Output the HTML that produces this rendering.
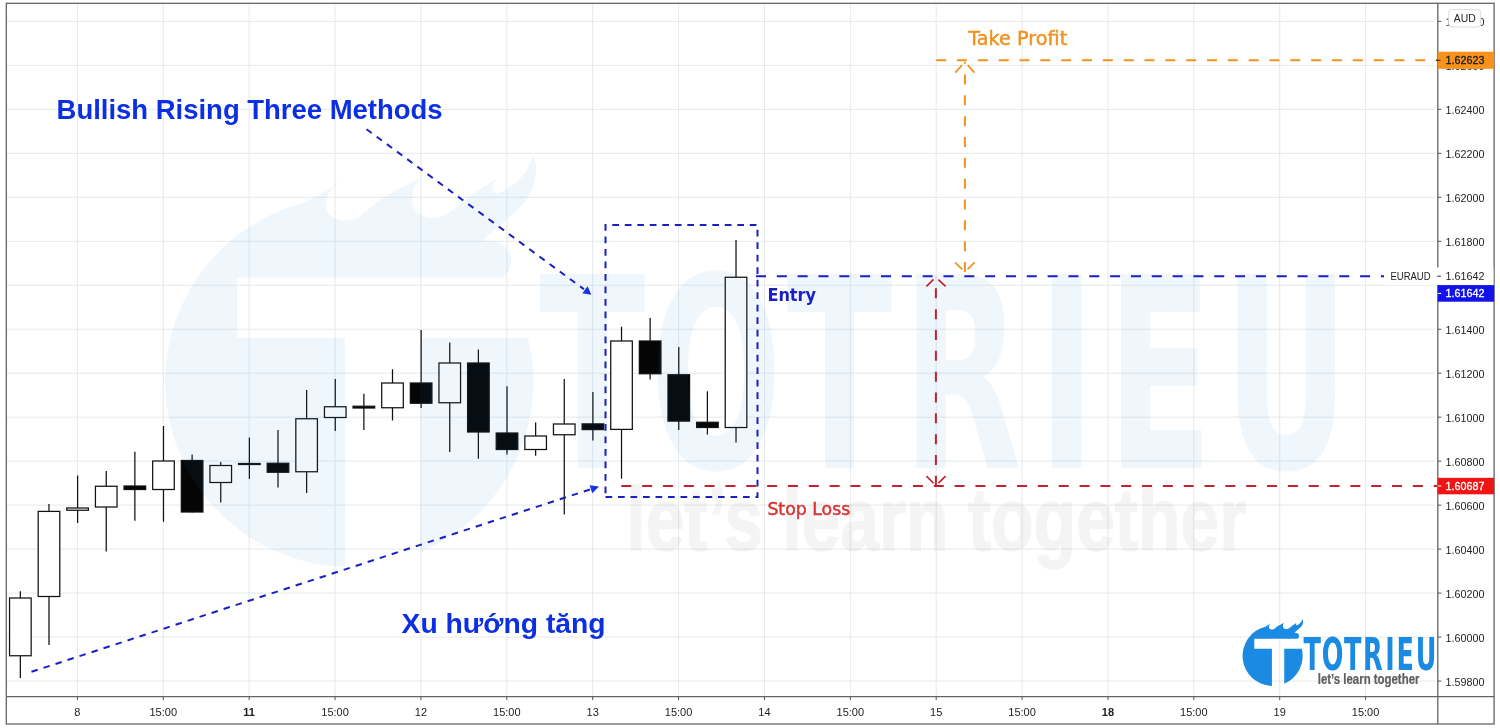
<!DOCTYPE html>
<html lang="vi"><head><meta charset="utf-8"><title>Bullish Rising Three Methods - EURAUD</title>
<style>html,body{margin:0;padding:0;background:#fff}body{width:1500px;height:728px;overflow:hidden}svg{display:block}.ax{font-family:"Liberation Sans","DejaVu Sans",sans-serif;font-size:11px;fill:#222}.lb{font-family:"DejaVu Sans","Liberation Sans",sans-serif}.hd{font-family:"Liberation Sans","DejaVu Sans",sans-serif;font-weight:bold;font-size:27.7px;fill:#0c2fe2}</style></head><body>
<svg width="1500" height="728" viewBox="0 0 1500 728">
<rect x="0" y="0" width="1500" height="728" fill="#fff"/>
<defs>
<path id="lm" d="M306 203 C319 197 333 189 344 180 C337 186 331 190 329 197 C324 209 332 221 346 221 C356 221 364 215 371 208 C386 196 404 187 422 179 C416 185 413 190 414 196 C411 208 420 218 434 218 C444 218 452 212 459 206 C470 197 484 187 498 179 C492 185 492 191 497 194 C512 190 528 176 534 156 C540 172 536 190 524 204 C512 218 496 228 484 241 C500 240 512 248 512 260 C512 268 508 274 503 277.5 L239 277.5 L239 337.4 L346.5 337.4 L346.5 565.6 A184.2 184.2 0 0 1 306 203 Z M421.5 337.4 L528.8 337.4 A184.2 184.2 0 0 1 421.5 551.3 Z" fill="#1a8ae2"/>
<g id="lt">
<text transform="translate(545.2,468) scale(0.585,1)" x="-9.9 179.0 412.5 610.1 842.1 959.8 1158.9" y="0" font-family="DejaVu Sans,Liberation Sans,sans-serif" font-weight="bold" font-size="266" fill="#1a8ae2">TOTRIEU</text>
<text x="626.3" y="550" font-family="Liberation Sans,DejaVu Sans,sans-serif" font-weight="bold" font-size="88.5" fill="#5f5f5f" stroke="#5f5f5f" stroke-width="1.5" textLength="620" lengthAdjust="spacingAndGlyphs">let’s learn together</text>
</g></defs>
<g stroke="#e5e9ea" stroke-width="1" shape-rendering="auto">
<line x1="77.40" y1="3.3" x2="77.40" y2="696.6"/>
<line x1="163.28" y1="3.3" x2="163.28" y2="696.6"/>
<line x1="249.16" y1="3.3" x2="249.16" y2="696.6"/>
<line x1="335.04" y1="3.3" x2="335.04" y2="696.6"/>
<line x1="420.92" y1="3.3" x2="420.92" y2="696.6"/>
<line x1="506.80" y1="3.3" x2="506.80" y2="696.6"/>
<line x1="592.68" y1="3.3" x2="592.68" y2="696.6"/>
<line x1="678.56" y1="3.3" x2="678.56" y2="696.6"/>
<line x1="764.44" y1="3.3" x2="764.44" y2="696.6"/>
<line x1="850.32" y1="3.3" x2="850.32" y2="696.6"/>
<line x1="936.20" y1="3.3" x2="936.20" y2="696.6"/>
<line x1="1022.08" y1="3.3" x2="1022.08" y2="696.6"/>
<line x1="1107.96" y1="3.3" x2="1107.96" y2="696.6"/>
<line x1="1193.84" y1="3.3" x2="1193.84" y2="696.6"/>
<line x1="1279.72" y1="3.3" x2="1279.72" y2="696.6"/>
<line x1="1365.60" y1="3.3" x2="1365.60" y2="696.6"/>
<line x1="6.3" y1="21.35" x2="1434.8" y2="21.35"/>
<line x1="6.3" y1="65.33" x2="1434.8" y2="65.33"/>
<line x1="6.3" y1="109.31" x2="1434.8" y2="109.31"/>
<line x1="6.3" y1="153.29" x2="1434.8" y2="153.29"/>
<line x1="6.3" y1="197.27" x2="1434.8" y2="197.27"/>
<line x1="6.3" y1="241.25" x2="1434.8" y2="241.25"/>
<line x1="6.3" y1="285.23" x2="1434.8" y2="285.23"/>
<line x1="6.3" y1="329.21" x2="1434.8" y2="329.21"/>
<line x1="6.3" y1="373.19" x2="1434.8" y2="373.19"/>
<line x1="6.3" y1="417.17" x2="1434.8" y2="417.17"/>
<line x1="6.3" y1="461.15" x2="1434.8" y2="461.15"/>
<line x1="6.3" y1="505.13" x2="1434.8" y2="505.13"/>
<line x1="6.3" y1="549.11" x2="1434.8" y2="549.11"/>
<line x1="6.3" y1="593.09" x2="1434.8" y2="593.09"/>
<line x1="6.3" y1="637.07" x2="1434.8" y2="637.07"/>
<line x1="6.3" y1="681.05" x2="1434.8" y2="681.05"/>
</g>
<g stroke="#111" stroke-width="1.25">
<line x1="20.35" y1="591.25" x2="20.35" y2="678"/>
<rect x="9.55" y="598.0" width="21.60" height="57.75" fill="#fff"/>
<line x1="48.98" y1="504" x2="48.98" y2="645"/>
<rect x="38.18" y="511.4" width="21.60" height="85.10" fill="#fff"/>
<line x1="77.60" y1="475.5" x2="77.60" y2="523"/>
<rect x="66.80" y="508.0" width="21.60" height="2.25" fill="#fff"/>
<line x1="106.23" y1="471" x2="106.23" y2="551.5"/>
<rect x="95.43" y="486.25" width="21.60" height="20.75" fill="#fff"/>
<line x1="134.86" y1="451.75" x2="134.86" y2="520.75"/>
<rect x="124.06" y="486.0" width="21.60" height="3.50" fill="#050505"/>
<line x1="163.48" y1="426" x2="163.48" y2="521.75"/>
<rect x="152.68" y="461.0" width="21.60" height="28.50" fill="#fff"/>
<line x1="192.11" y1="454.5" x2="192.11" y2="512.5"/>
<rect x="181.31" y="460.5" width="21.60" height="51.50" fill="#050505"/>
<line x1="220.74" y1="462" x2="220.74" y2="502.5"/>
<rect x="209.94" y="465.5" width="21.60" height="17.00" fill="#fff"/>
<line x1="249.37" y1="437.5" x2="249.37" y2="479"/>
<rect x="238.57" y="463.5" width="21.60" height="1.00" fill="#050505"/>
<line x1="277.99" y1="430" x2="277.99" y2="487.5"/>
<rect x="267.19" y="463.25" width="21.60" height="9.00" fill="#050505"/>
<line x1="306.62" y1="390" x2="306.62" y2="493"/>
<rect x="295.82" y="418.75" width="21.60" height="53.00" fill="#fff"/>
<line x1="335.25" y1="379" x2="335.25" y2="431"/>
<rect x="324.45" y="406.75" width="21.60" height="10.75" fill="#fff"/>
<line x1="363.87" y1="393.75" x2="363.87" y2="430"/>
<rect x="353.07" y="406.25" width="21.60" height="1.75" fill="#050505"/>
<line x1="392.50" y1="369.25" x2="392.50" y2="420.5"/>
<rect x="381.70" y="383.0" width="21.60" height="24.75" fill="#fff"/>
<line x1="421.13" y1="330" x2="421.13" y2="408"/>
<rect x="410.33" y="383.0" width="21.60" height="20.25" fill="#050505"/>
<line x1="449.75" y1="342.5" x2="449.75" y2="452"/>
<rect x="438.95" y="363.0" width="21.60" height="39.75" fill="#fff"/>
<line x1="478.38" y1="349.5" x2="478.38" y2="458.75"/>
<rect x="467.58" y="363.0" width="21.60" height="69.00" fill="#050505"/>
<line x1="507.01" y1="386.25" x2="507.01" y2="454.5"/>
<rect x="496.21" y="433.0" width="21.60" height="16.50" fill="#050505"/>
<line x1="535.64" y1="422.5" x2="535.64" y2="455.75"/>
<rect x="524.84" y="436.0" width="21.60" height="13.50" fill="#fff"/>
<line x1="564.26" y1="379" x2="564.26" y2="514.5"/>
<rect x="553.46" y="424.0" width="21.60" height="10.75" fill="#fff"/>
<line x1="592.89" y1="392" x2="592.89" y2="440.5"/>
<rect x="582.09" y="423.9" width="21.60" height="5.70" fill="#050505"/>
<line x1="621.52" y1="326.75" x2="621.52" y2="478.75"/>
<rect x="610.72" y="341.0" width="21.60" height="88.40" fill="#fff"/>
<line x1="650.14" y1="318" x2="650.14" y2="379.4"/>
<rect x="639.34" y="341.0" width="21.60" height="32.75" fill="#050505"/>
<line x1="678.77" y1="347" x2="678.77" y2="430"/>
<rect x="667.97" y="374.75" width="21.60" height="46.35" fill="#050505"/>
<line x1="707.40" y1="391.25" x2="707.40" y2="434.5"/>
<rect x="696.60" y="422.25" width="21.60" height="5.25" fill="#050505"/>
<line x1="736.02" y1="240" x2="736.02" y2="442.5"/>
<rect x="725.23" y="277.25" width="21.60" height="150.25" fill="#fff"/>
</g>
<use href="#lm" opacity="0.072" transform="translate(-2.9,-1.1) scale(1.004)"/><use href="#lt" opacity="0.064"/>
<g fill="none" stroke="#1a1fc4" stroke-width="2">
<path d="M605.5 497 H757.5 V225 H605.5 Z" stroke-dasharray="6.7 5.8"/>
<line x1="756" y1="276.2" x2="1384" y2="276.2" stroke-dasharray="10 10.83"/>
<line x1="31.5" y1="671.8" x2="591" y2="489.1" stroke-dasharray="6.5 6.13"/>
<line x1="366.5" y1="129.2" x2="584" y2="289.3" stroke-dasharray="6.5 6.13"/>
</g>
<path d="M599 486.6 L589.6 485.2 L592.3 493.3 Z" fill="#1432ea"/>
<path d="M591.3 294.7 L582.3 293.2 L587.6 286.3 Z" fill="#1432ea"/>
<g fill="none" stroke="#c6212c" stroke-width="2">
<line x1="621.3" y1="486" x2="1438" y2="486" stroke-dasharray="10 10.83"/>
<line x1="935.9" y1="485.8" x2="935.9" y2="277.2" stroke-dasharray="10 10.83"/>
<path d="M926.4 286.4 L935.9 277.2 M945.6 286.4 L935.9 277.2 M926.4 476.2 L935.9 485.6 M945.6 476.2 L935.9 485.6" stroke-width="1.7" stroke-dasharray="10 10.83"/>
</g>
<g fill="none" stroke="#ee9320" stroke-width="2">
<line x1="936.2" y1="60.3" x2="1438" y2="60.3" stroke-dasharray="10 10.83"/>
<line x1="964.9" y1="272" x2="964.9" y2="62" stroke-dasharray="10 10.83"/>
<path d="M955.3 72.6 L964.9 62 M974.4 72.6 L964.9 62 M955.1 262.4 L964.9 272 M974.6 262.4 L964.9 272" stroke-width="1.7" stroke-dasharray="10 10.83"/>
</g>
<text class="hd" x="56.6" y="118.7" textLength="386" lengthAdjust="spacingAndGlyphs">Bullish Rising Three Methods</text>
<text class="hd" x="401.6" y="632.8" textLength="204" lengthAdjust="spacingAndGlyphs">Xu hướng tăng</text>
<text class="lb" x="767.4" y="301.3" font-size="17" font-weight="bold" fill="#1a1fc4" textLength="48.6" lengthAdjust="spacingAndGlyphs">Entry</text>
<text class="lb" x="767.4" y="514.5" font-size="17" fill="#d63333" stroke="#d63333" stroke-width="0.45" textLength="82.8" lengthAdjust="spacingAndGlyphs">Stop Loss</text>
<text class="lb" x="968.2" y="45" font-size="19" fill="#ee9320" stroke="#ee9320" stroke-width="0.45" textLength="99" lengthAdjust="spacingAndGlyphs">Take Profit</text>
<rect x="1437.8" y="3.3" width="56.299999999999955" height="720.7" fill="#fff"/>
<rect x="6.3" y="696.6" width="1487.8" height="27.399999999999977" fill="#fff"/>
<g class="ax">
<line x1="1437.8" y1="65.33" x2="1441.3" y2="65.33" stroke="#555" stroke-width="1"/>
<text x="1445.6" y="70.13" textLength="38.8" lengthAdjust="spacingAndGlyphs">1.62600</text>
<line x1="1437.8" y1="109.31" x2="1441.3" y2="109.31" stroke="#555" stroke-width="1"/>
<text x="1445.6" y="114.11" textLength="38.8" lengthAdjust="spacingAndGlyphs">1.62400</text>
<line x1="1437.8" y1="153.29" x2="1441.3" y2="153.29" stroke="#555" stroke-width="1"/>
<text x="1445.6" y="158.09" textLength="38.8" lengthAdjust="spacingAndGlyphs">1.62200</text>
<line x1="1437.8" y1="197.27" x2="1441.3" y2="197.27" stroke="#555" stroke-width="1"/>
<text x="1445.6" y="202.07" textLength="38.8" lengthAdjust="spacingAndGlyphs">1.62000</text>
<line x1="1437.8" y1="241.25" x2="1441.3" y2="241.25" stroke="#555" stroke-width="1"/>
<text x="1445.6" y="246.05" textLength="38.8" lengthAdjust="spacingAndGlyphs">1.61800</text>
<line x1="1437.8" y1="285.23" x2="1441.3" y2="285.23" stroke="#555" stroke-width="1"/>
<text x="1445.6" y="290.03" textLength="38.8" lengthAdjust="spacingAndGlyphs">1.61600</text>
<line x1="1437.8" y1="329.21" x2="1441.3" y2="329.21" stroke="#555" stroke-width="1"/>
<text x="1445.6" y="334.01" textLength="38.8" lengthAdjust="spacingAndGlyphs">1.61400</text>
<line x1="1437.8" y1="373.19" x2="1441.3" y2="373.19" stroke="#555" stroke-width="1"/>
<text x="1445.6" y="377.99" textLength="38.8" lengthAdjust="spacingAndGlyphs">1.61200</text>
<line x1="1437.8" y1="417.17" x2="1441.3" y2="417.17" stroke="#555" stroke-width="1"/>
<text x="1445.6" y="421.97" textLength="38.8" lengthAdjust="spacingAndGlyphs">1.61000</text>
<line x1="1437.8" y1="461.15" x2="1441.3" y2="461.15" stroke="#555" stroke-width="1"/>
<text x="1445.6" y="465.95" textLength="38.8" lengthAdjust="spacingAndGlyphs">1.60800</text>
<line x1="1437.8" y1="505.13" x2="1441.3" y2="505.13" stroke="#555" stroke-width="1"/>
<text x="1445.6" y="509.93" textLength="38.8" lengthAdjust="spacingAndGlyphs">1.60600</text>
<line x1="1437.8" y1="549.11" x2="1441.3" y2="549.11" stroke="#555" stroke-width="1"/>
<text x="1445.6" y="553.91" textLength="38.8" lengthAdjust="spacingAndGlyphs">1.60400</text>
<line x1="1437.8" y1="593.09" x2="1441.3" y2="593.09" stroke="#555" stroke-width="1"/>
<text x="1445.6" y="597.89" textLength="38.8" lengthAdjust="spacingAndGlyphs">1.60200</text>
<line x1="1437.8" y1="637.07" x2="1441.3" y2="637.07" stroke="#555" stroke-width="1"/>
<text x="1445.6" y="641.87" textLength="38.8" lengthAdjust="spacingAndGlyphs">1.60000</text>
<line x1="1437.8" y1="681.05" x2="1441.3" y2="681.05" stroke="#555" stroke-width="1"/>
<text x="1445.6" y="685.85" textLength="38.8" lengthAdjust="spacingAndGlyphs">1.59800</text>
<line x1="1437.8" y1="21.35" x2="1441.3" y2="21.35" stroke="#555" stroke-width="1"/>
<text x="1445.6" y="26.1" textLength="38.8" lengthAdjust="spacingAndGlyphs">1.62800</text>
</g>
<g fill="none" stroke="#646464" stroke-width="1.3">
<rect x="6.3" y="3.3" width="1487.8" height="720.7"/>
<line x1="1437.8" y1="3.3" x2="1437.8" y2="724.0"/>
<line x1="6.3" y1="696.6" x2="1494.1" y2="696.6"/>
</g>
<rect x="1448.7" y="9.6" width="32" height="17.4" rx="3" fill="#fff" stroke="#d8dbe0" stroke-width="1"/>
<text class="ax" x="1464.7" y="22.3" text-anchor="middle" style="font-size:10.4px">AUD</text>
<rect x="1437.8" y="51.7" width="56.299999999999955" height="17.1" fill="#f7931a"/>
<line x1="1435.8" y1="60.3" x2="1440.3999999999999" y2="60.3" stroke="#222" stroke-width="1"/>
<text class="ax" x="1445.6" y="64.3" fill="#111" stroke="#111" stroke-width="0.3" textLength="38.8" lengthAdjust="spacingAndGlyphs">1.62623</text>
<rect x="1386" y="267.5" width="107.3999999999999" height="17.5" fill="#fff"/>
<text class="ax" x="1390.5" y="280" fill="#111" textLength="40" lengthAdjust="spacingAndGlyphs">EURAUD</text>
<line x1="1437.3" y1="276.2" x2="1440.8" y2="276.2" stroke="#222" stroke-width="1"/>
<text class="ax" x="1445.6" y="280" fill="#111" textLength="38.8" lengthAdjust="spacingAndGlyphs">1.61642</text>
<rect x="1437.8" y="285.1" width="56.299999999999955" height="16.6" fill="#1212ea"/>
<line x1="1437.8" y1="293.4" x2="1441.3" y2="293.4" stroke="#fff" stroke-width="1"/>
<text class="ax" x="1445.6" y="297.4" style="fill:#fff;stroke:#fff;stroke-width:0.3px" textLength="38.8" lengthAdjust="spacingAndGlyphs">1.61642</text>
<rect x="1437.8" y="477.8" width="56.299999999999955" height="16.5" fill="#ef1515"/>
<line x1="1437.8" y1="486" x2="1441.3" y2="486" stroke="#fff" stroke-width="1"/>
<text class="ax" x="1445.6" y="490" style="fill:#fff;stroke:#fff;stroke-width:0.3px" textLength="38.8" lengthAdjust="spacingAndGlyphs">1.60687</text>
<g class="ax" text-anchor="middle">
<line x1="77.40" y1="696.6" x2="77.40" y2="700.1" stroke="#555" stroke-width="1"/>
<text x="77.40" y="715.6">8</text>
<line x1="163.28" y1="696.6" x2="163.28" y2="700.1" stroke="#555" stroke-width="1"/>
<text x="163.28" y="715.6">15:00</text>
<line x1="249.16" y1="696.6" x2="249.16" y2="700.1" stroke="#555" stroke-width="1"/>
<text x="249.16" y="715.6" font-weight="bold">11</text>
<line x1="335.04" y1="696.6" x2="335.04" y2="700.1" stroke="#555" stroke-width="1"/>
<text x="335.04" y="715.6">15:00</text>
<line x1="420.92" y1="696.6" x2="420.92" y2="700.1" stroke="#555" stroke-width="1"/>
<text x="420.92" y="715.6">12</text>
<line x1="506.80" y1="696.6" x2="506.80" y2="700.1" stroke="#555" stroke-width="1"/>
<text x="506.80" y="715.6">15:00</text>
<line x1="592.68" y1="696.6" x2="592.68" y2="700.1" stroke="#555" stroke-width="1"/>
<text x="592.68" y="715.6">13</text>
<line x1="678.56" y1="696.6" x2="678.56" y2="700.1" stroke="#555" stroke-width="1"/>
<text x="678.56" y="715.6">15:00</text>
<line x1="764.44" y1="696.6" x2="764.44" y2="700.1" stroke="#555" stroke-width="1"/>
<text x="764.44" y="715.6">14</text>
<line x1="850.32" y1="696.6" x2="850.32" y2="700.1" stroke="#555" stroke-width="1"/>
<text x="850.32" y="715.6">15:00</text>
<line x1="936.20" y1="696.6" x2="936.20" y2="700.1" stroke="#555" stroke-width="1"/>
<text x="936.20" y="715.6">15</text>
<line x1="1022.08" y1="696.6" x2="1022.08" y2="700.1" stroke="#555" stroke-width="1"/>
<text x="1022.08" y="715.6">15:00</text>
<line x1="1107.96" y1="696.6" x2="1107.96" y2="700.1" stroke="#555" stroke-width="1"/>
<text x="1107.96" y="715.6" font-weight="bold">18</text>
<line x1="1193.84" y1="696.6" x2="1193.84" y2="700.1" stroke="#555" stroke-width="1"/>
<text x="1193.84" y="715.6">15:00</text>
<line x1="1279.72" y1="696.6" x2="1279.72" y2="700.1" stroke="#555" stroke-width="1"/>
<text x="1279.72" y="715.6">19</text>
<line x1="1365.60" y1="696.6" x2="1365.60" y2="700.1" stroke="#555" stroke-width="1"/>
<text x="1365.60" y="715.6">15:00</text>
</g>
<g transform="translate(1215.123,593.359) scale(0.16393)"><use href="#lm"/><use href="#lt"/></g>
</svg></body></html>
